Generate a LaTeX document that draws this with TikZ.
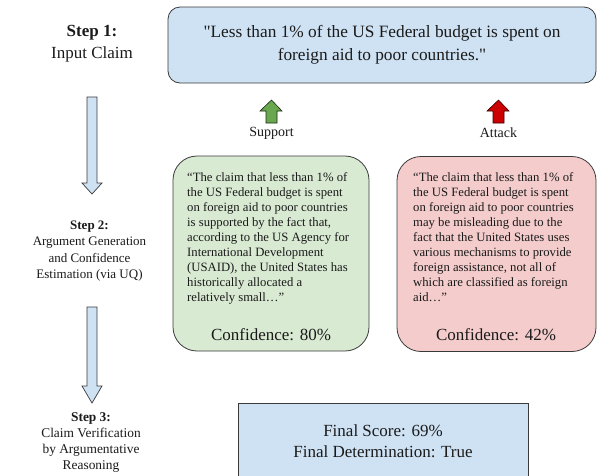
\documentclass[tikz,border=0pt]{standalone}
\usepackage{fontspec}
\setmainfont{Liberation Serif}
\definecolor{lblue}{HTML}{CFE2F3}
\definecolor{lgreen}{HTML}{D9EAD3}
\definecolor{lred}{HTML}{F4CCCC}
\definecolor{agreen}{HTML}{6AA84F}
\definecolor{ared}{HTML}{CC0000}
\definecolor{edge}{HTML}{3A3A3A}
\definecolor{txt}{HTML}{1A1A1A}
\begin{document}
\begin{tikzpicture}[x=1pt,y=-1pt,
  every node/.style={text=txt},
  box/.style={draw=edge, line width=0.8pt, inner sep=0pt},
  claimbox/.style={box, fill=lblue, rounded corners=12pt, minimum width=428, minimum height=76,
    align=center, font=\fontsize{17.3}{23}\selectfont},
  argbox/.style={box, rounded corners=24pt, minimum height=195},
  argtext/.style={anchor=north west, inner sep=0pt, align=left,
    font=\fontsize{12.7}{15}\selectfont},
  conftext/.style={font=\fontsize{17}{20}\selectfont, inner sep=0pt},
  steplabel/.style={align=center, inner sep=0pt},
  blockarrow/.style={draw=edge, line width=0.7pt, fill=lblue, line join=miter},
  smallarrow/.style={line width=0.6pt, line join=miter},
]
\clip (0,0) rectangle (597,475);

% Step labels
\node[steplabel, font=\fontsize{17}{22}\selectfont] (s1) at (92,44) {\textbf{Step 1:}\\Input Claim};
\node[steplabel, font=\fontsize{13}{16.5}\selectfont] (s2) at (89.5,251) {\textbf{Step 2:}\\Argument Generation\\and Confidence\\Estimation (via UQ)};
\node[steplabel, font=\fontsize{13.4}{15.8}\selectfont] (s3) at (91,442.5) {\textbf{Step 3:}\\Claim Verification\\by Argumentative\\Reasoning};

% Left block arrows
\draw[blockarrow] (87,97) -- (97,97) -- (97,183) -- (102,183) -- (92,194) -- (82,183) -- (87,183) -- cycle;
\draw[blockarrow] (87,307) -- (97,307) -- (97,386) -- (102,386) -- (92,403) -- (82,386) -- (87,386) -- cycle;

% Claim
\node[claimbox] (claim) at (382,45) {\textquotedbl Less than 1\% of the US Federal budget is spent on\\foreign aid to poor countries.\textquotedbl};

% Support / Attack arrows
\draw[smallarrow, draw=black!75!agreen, fill=agreen] (266,123) -- (277,123) -- (277,111) -- (282,111) -- (271.5,100) -- (260,111) -- (266,111) -- cycle;
\draw[smallarrow, draw=black!70!ared, fill=ared] (493,123) -- (504,123) -- (504,111) -- (509,111) -- (498.5,100) -- (487,111) -- (493,111) -- cycle;
\node[font=\fontsize{14}{16}\selectfont, inner sep=0pt] (sup) at (271.5,133) {Support};
\node[font=\fontsize{14}{16}\selectfont, inner sep=0pt] (att) at (498.5,133) {Attack};

% Argument boxes
\node[argbox, fill=lgreen, minimum width=196] (pro) at (271,253.5) {};
\node[argbox, fill=lred, minimum width=199] (con) at (496.5,254) {};

\node[argtext] (protext) at (187,172) {“The claim that less than 1\% of\\the US Federal budget is spent\\on foreign aid to poor countries\\is supported by the fact that,\\according to the US Agency for\\International Development\\(USAID), the United States has\\historically allocated a\\relatively small…”};
\node[argtext] (context) at (413,172) {“The claim that less than 1\% of\\the US Federal budget is spent\\on foreign aid to poor countries\\may be misleading due to the\\fact that the United States uses\\various mechanisms to provide\\foreign assistance, not all of\\which are classified as foreign\\aid…”};

\node[conftext] (proconf) at (271,335) {Confidence: 80\%};
\node[conftext] (conconf) at (496,335) {Confidence: 42\%};

% Final box
\node[box, fill=lblue, minimum width=290, minimum height=76, align=center,
  font=\fontsize{17}{21}\selectfont] (final) at (383,441) {Final Score: 69\%\\Final Determination: True};
\end{tikzpicture}
\end{document}
